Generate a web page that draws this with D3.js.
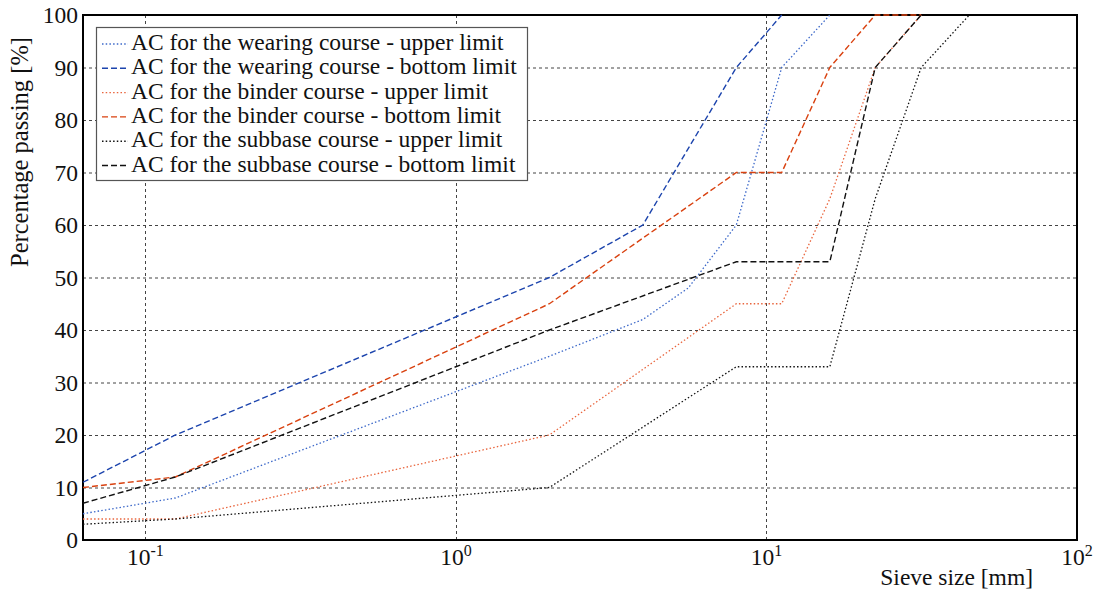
<!DOCTYPE html>
<html>
<head>
<meta charset="utf-8">
<script src="https://cdn.jsdelivr.net/npm/d3@7"></script>
<style>
  body { margin: 0; background: #fff; }
</style>
</head>
<body>
<div class="chartContainer"></div>
<script>
// Sieve sizes [mm] for every curve
const sieves = [0.063, 0.125, 2, 4, 5.6, 8, 11.2, 16, 22.4, 31.5, 45];

// Percentage passing per curve (null = not drawn at that sieve)
const wearingUpper = [5, 8, 35, 42, 48, 60, 90, 100, null, null, null];
const wearingBottom = [11, 20, 50, 60, null, 90, 100, null, null, null, null];
const binderUpper = [4, 4, 20, null, null, 45, 45, 65, 90, 100, null];
const binderBottom = [10, 12, 45, null, null, 70, 70, 90, 100, 100, null];
const subbaseUpper = [3, 4, 10, null, null, 33, 33, 33, 65, 90, 100];
const subbaseBottom = [7, 12, 40, null, null, 53, 53, 53, 90, 100, null];

const seriesNames = [
  "AC for the wearing course - upper limit",
  "AC for the wearing course - bottom limit",
  "AC for the binder course - upper limit",
  "AC for the binder course - bottom limit",
  "AC for the subbase course - upper limit",
  "AC for the subbase course - bottom limit"
];
const seriesValues = [wearingUpper, wearingBottom, binderUpper, binderBottom, subbaseUpper, subbaseBottom];
const seriesColors = ["#3c68c9", "#1c44ad", "#e9653d", "#d9410f", "#111", "#111"];
const seriesDash = ["1.5,2.2", "6,3", "1.5,2.2", "6,3", "1.5,2.2", "6,3"];

const xTicks = [0.1, 1, 10, 100];
const xTickExp = ["-1", "0", "1", "2"];
const yTicks = [0, 10, 20, 30, 40, 50, 60, 70, 80, 90, 100];

const FONT = "'Liberation Serif', 'Times New Roman', serif";
const FS = 23.5;
const W = 1098, H = 592;
const M = { left: 83, right: 21, top: 15, bottom: 52 };

const svg = d3.select(".chartContainer").append("svg")
  .attr("width", W).attr("height", H)
  .attr("font-family", FONT)
  .attr("fill", "#111");

const x = d3.scaleLog().domain([0.063, 100]).range([M.left, W - M.right]);
const y = d3.scaleLinear().domain([0, 100]).range([H - M.bottom, M.top]);

// grid
const grid = svg.append("g").attr("stroke", "#444").attr("stroke-width", 1)
  .attr("stroke-dasharray", "3,3");
grid.selectAll("line.gy").data(yTicks.slice(1, -1)).enter().append("line")
  .attr("x1", M.left).attr("x2", W - M.right)
  .attr("y1", d => y(d) + 0.5).attr("y2", d => y(d) + 0.5);
grid.selectAll("line.gx").data(xTicks.slice(0, -1)).enter().append("line")
  .attr("y1", M.top).attr("y2", H - M.bottom)
  .attr("x1", d => Math.round(x(d)) + 0.5).attr("x2", d => Math.round(x(d)) + 0.5);

// frame
svg.append("rect")
  .attr("x", M.left).attr("y", M.top)
  .attr("width", W - M.left - M.right).attr("height", H - M.top - M.bottom)
  .attr("fill", "none").attr("stroke", "#000").attr("stroke-width", 2);

// curves
const line = d3.line()
  .defined(d => d[1] != null)
  .x(d => x(d[0])).y(d => y(d[1]));

const curves = svg.append("g");
seriesValues.forEach((vals, i) => {
  const pts = sieves.map((s, j) => [s, vals[j]]).filter(d => d[1] != null);
  curves.append("path")
    .attr("d", line(pts))
    .attr("fill", "none")
    .attr("stroke", seriesColors[i])
    .attr("stroke-width", i % 2 === 0 ? 1.3 : 1.4)
    .attr("stroke-dasharray", seriesDash[i]);
});

// y tick labels
const yAxis = svg.append("g");
yAxis.selectAll("text").data(yTicks).enter().append("text")
  .attr("x", M.left - 5).attr("y", d => y(d) + 8)
  .attr("text-anchor", "end").attr("font-size", FS)
  .text(d => d);

// x tick labels with superscript exponents
const xAxis = svg.append("g");
xTicks.forEach((t, i) => {
  const tx = xAxis.append("text")
    .attr("x", x(t)).attr("y", H - M.bottom + 25)
    .attr("text-anchor", "middle").attr("font-size", FS);
  tx.append("tspan").text("10");
  tx.append("tspan").attr("dy", -9).attr("font-size", 16).text(xTickExp[i]);
});

// axis titles
svg.append("text")
  .attr("x", 1033).attr("y", 585)
  .attr("text-anchor", "end").attr("font-size", FS)
  .text("Sieve size [mm]");

svg.append("text")
  .attr("transform", "translate(28,152) rotate(-90)")
  .attr("text-anchor", "middle").attr("font-size", 24.5)
  .text("Percentage passing [%]");

// legend
const legend = svg.append("g").attr("transform", "translate(96,27)");
legend.append("rect")
  .attr("x", 0.5).attr("y", 0.5).attr("width", 431).attr("height", 153)
  .attr("fill", "#fff").attr("stroke", "#555").attr("stroke-width", 1.2);
seriesNames.forEach((name, i) => {
  const ly = 17 + i * 24.3;
  legend.append("line")
    .attr("x1", 6).attr("x2", 32).attr("y1", ly).attr("y2", ly)
    .attr("stroke", seriesColors[i]).attr("stroke-width", 1.4)
    .attr("stroke-dasharray", seriesDash[i]);
  legend.append("text")
    .attr("x", 35).attr("y", ly + 6)
    .attr("font-size", FS)
    .text(name);
});
</script>
</body>
</html>
